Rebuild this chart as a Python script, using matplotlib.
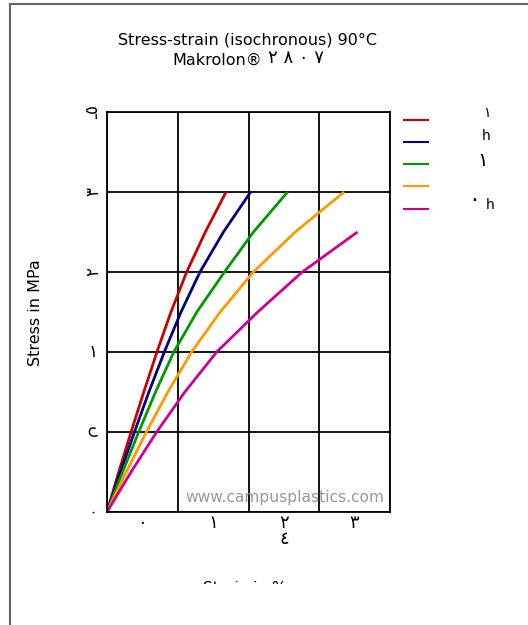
import matplotlib.pyplot as plt
from matplotlib.lines import Line2D
from matplotlib.patches import Rectangle

# stress levels (MPa) and strain (%) read for each isochronous curve
stress = [0, 5, 10, 15, 20, 25, 30, 35, 40]
strain_red = [0, 0.083, 0.17, 0.26, 0.353, 0.452, 0.563, 0.695, 0.841]
strain_blue = [0, 0.095, 0.194, 0.296, 0.405, 0.523, 0.657, 0.823, 1.015]
strain_green = [0, 0.11, 0.224, 0.343, 0.472, 0.635, 0.83, 1.035, 1.276]
strain_orange = [0, 0.136, 0.278, 0.43, 0.598, 0.80, 1.034, 1.33, 1.675]
stress_magenta = [0, 5, 10, 15, 20, 25, 30, 35]
strain_magenta = [0, 0.17, 0.351, 0.55, 0.775, 1.065, 1.38, 1.77]

colors = ['#cc0000', '#000080', '#009900', '#ff9900', '#cc0099']

# garbled tick labels as they appear in the reference
y_ticks = [0, 10, 20, 30, 40, 50]
y_labels = ['٠', 'ں', '١', '٢', '٣', 'ـ٥']
y_rot = [0, -90, 0, 90, 90, 90]
x_grid = [0, 0.5, 1.0, 1.5, 2.0]
x_label_pos = [0.25, 0.75, 1.25, 1.75]
x_labels = ['٠', '١', '٢\n٤', '٣']

W, H = 528, 625
fig = plt.figure(figsize=(W / 100, H / 100), dpi=100)
ax = fig.add_axes([107 / W, 1 - 512 / H, 283 / W, 400 / H])

ax.plot(strain_red, stress, color=colors[0], lw=2, solid_capstyle='butt')
ax.plot(strain_blue, stress, color=colors[1], lw=2, solid_capstyle='butt')
ax.plot(strain_green, stress, color=colors[2], lw=2, solid_capstyle='butt')
ax.plot(strain_orange, stress, color=colors[3], lw=2, solid_capstyle='butt')
ax.plot(strain_magenta, stress_magenta, color=colors[4], lw=2, solid_capstyle='butt')

ax.set_xlim(0, 2)
ax.set_ylim(0, 50)
ax.set_xticks(x_grid)
ax.set_yticks(y_ticks)
ax.set_xticklabels([])
ax.set_yticklabels([])
ax.tick_params(length=0)
ax.grid(True, color='black', lw=1.3)
ax.set_axisbelow(True)
for s in ax.spines.values():
    s.set_linewidth(1.3)

for yv, lab, r in zip(y_ticks, y_labels, y_rot):
    ax.text(-0.1, yv, lab, ha='center', va='center', rotation=r, fontsize=12,
            clip_on=False)
for xv, lab in zip(x_label_pos, x_labels):
    ax.text(xv, -0.3, lab, ha='center', va='top', fontsize=13, linespacing=0.85,
            clip_on=False)

ax.text(1.26, 1.8, 'www.campusplastics.com', ha='center', va='center',
        fontsize=11.2, color='#999999')

# title
fig.text(248 / W, 1 - 40 / H, 'Stress-strain (isochronous) 90°C', ha='center',
         va='center', fontsize=11.5)
fig.text(262 / W, 1 - 60 / H, 'Makrolon®', ha='right', va='center', fontsize=11.5)
fig.text(268 / W, 1 - 58 / H, '٢ ٨ ٠ ٧', ha='left', va='center', fontsize=13)

fig.text(35 / W, 1 - 313 / H, 'Stress in MPa', rotation=90, ha='center',
         va='center', fontsize=11.5)

fig.text(245 / W, 1 - 581 / H, 'Strain in %', ha='center', va='top', fontsize=11)
# the x label is cut off just below its top edge
fig.add_artist(Rectangle((12 / W, 0), 1, 1 - 584 / H, transform=fig.transFigure,
                         facecolor='white', edgecolor='none', zorder=5))

# legend
leg_y = [120, 142, 164, 186, 209]
for yy, c in zip(leg_y, colors):
    fig.add_artist(Line2D([404 / W, 428 / W], [1 - yy / H, 1 - yy / H], color=c, lw=1.5))
fig.text(487 / W, 1 - 113 / H, '١', ha='center', va='center', fontsize=10)
fig.text(486 / W, 1 - 136 / H, 'h', ha='center', va='center', fontsize=10)
fig.text(483 / W, 1 - 160 / H, '١', ha='center', va='center', fontsize=14)
fig.text(474 / W, 1 - 200 / H, '٠', ha='center', va='center', fontsize=16)
fig.text(490 / W, 1 - 205 / H, 'h', ha='center', va='center', fontsize=10)

# page frame
fig.add_artist(Line2D([10 / W, 1], [1 - 4 / H, 1 - 4 / H], color='#666666', lw=1.5, zorder=6))
fig.add_artist(Line2D([10 / W, 10 / W], [0, 1 - 4 / H], color='#666666', lw=1.5, zorder=6))

fig.savefig('out.png', dpi=100)
